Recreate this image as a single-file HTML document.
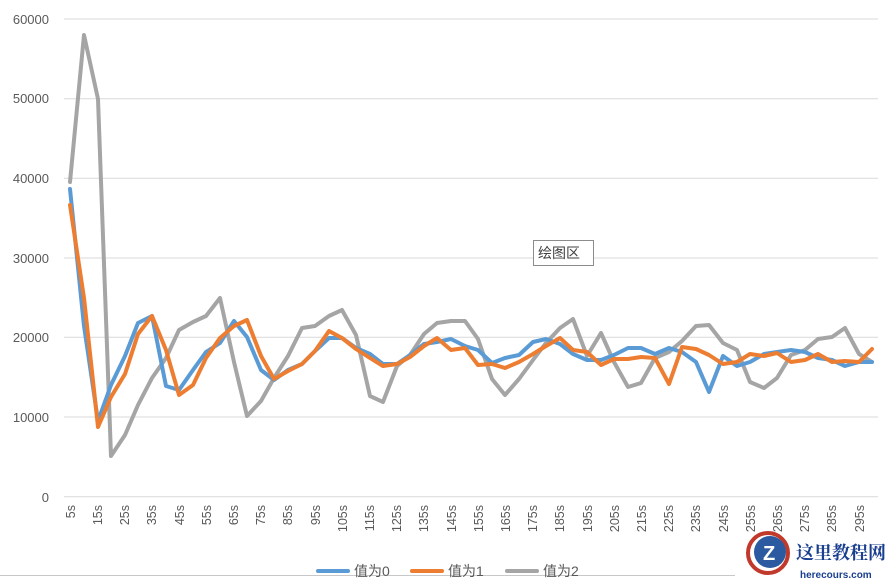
<!DOCTYPE html>
<html><head><meta charset="utf-8"><style>
html,body{margin:0;padding:0;background:#fff;}
svg{display:block;font-family:"Liberation Sans","Noto Sans CJK SC",sans-serif;}
</style></head><body>
<svg width="889" height="583" viewBox="0 0 889 583" xmlns="http://www.w3.org/2000/svg">
<rect width="889" height="583" fill="#fff"/>
<g stroke="#d9d9d9" stroke-width="1">
<line x1="64" y1="19" x2="878" y2="19"/>
<line x1="64" y1="98.7" x2="878" y2="98.7"/>
<line x1="64" y1="178.3" x2="878" y2="178.3"/>
<line x1="64" y1="258" x2="878" y2="258"/>
<line x1="64" y1="337.3" x2="878" y2="337.3"/>
<line x1="64" y1="417" x2="878" y2="417"/>
<line x1="64" y1="496.7" x2="878" y2="496.7"/>
</g>
<g fill="#595959" font-size="13" text-anchor="end">
<text x="49" y="24">60000</text>
<text x="49" y="103">50000</text>
<text x="49" y="183">40000</text>
<text x="49" y="263">30000</text>
<text x="49" y="342">20000</text>
<text x="49" y="422">10000</text>
<text x="49" y="502">0</text>
</g>
<g fill="#595959" font-size="12.5" text-anchor="end">
<text transform="translate(75,505) rotate(-90)">5s</text>
<text transform="translate(102,505) rotate(-90)">15s</text>
<text transform="translate(129,505) rotate(-90)">25s</text>
<text transform="translate(156,505) rotate(-90)">35s</text>
<text transform="translate(184,505) rotate(-90)">45s</text>
<text transform="translate(211,505) rotate(-90)">55s</text>
<text transform="translate(238,505) rotate(-90)">65s</text>
<text transform="translate(265,505) rotate(-90)">75s</text>
<text transform="translate(292,505) rotate(-90)">85s</text>
<text transform="translate(320,505) rotate(-90)">95s</text>
<text transform="translate(347,505) rotate(-90)">105s</text>
<text transform="translate(374,505) rotate(-90)">115s</text>
<text transform="translate(401,505) rotate(-90)">125s</text>
<text transform="translate(428,505) rotate(-90)">135s</text>
<text transform="translate(456,505) rotate(-90)">145s</text>
<text transform="translate(483,505) rotate(-90)">155s</text>
<text transform="translate(510,505) rotate(-90)">165s</text>
<text transform="translate(537,505) rotate(-90)">175s</text>
<text transform="translate(564,505) rotate(-90)">185s</text>
<text transform="translate(592,505) rotate(-90)">195s</text>
<text transform="translate(619,505) rotate(-90)">205s</text>
<text transform="translate(646,505) rotate(-90)">215s</text>
<text transform="translate(673,505) rotate(-90)">225s</text>
<text transform="translate(700,505) rotate(-90)">235s</text>
<text transform="translate(728,505) rotate(-90)">245s</text>
<text transform="translate(755,505) rotate(-90)">255s</text>
<text transform="translate(782,505) rotate(-90)">265s</text>
<text transform="translate(809,505) rotate(-90)">275s</text>
<text transform="translate(836,505) rotate(-90)">285s</text>
<text transform="translate(864,505) rotate(-90)">295s</text>
</g>
<g fill="none" stroke-width="4" stroke-linejoin="round" stroke-linecap="round">
<polyline stroke="#a5a5a5" points="70,182 84,35 98,99 111,456 125,435 138,405 152,378 166,358 179,330 193,322 206,316 220,298 234,362 247,416 261,401 274,378 288,356 302,328 315,326 329,316 342,310 356,335 370,396 383,402 397,366 410,355 424,334 437,323 451,321 465,321 478,339 492,379 505,395 519,379 533,360 546,343 560,328 573,319 587,356 601,333 614,362 628,387 641,383 655,358 669,352 682,341 696,326 709,325 723,343 737,350 750,382 764,388 777,378 791,355 805,350 818,339 832,337 845,328 859,354 872,362"/>
<polyline stroke="#5b9bd5" points="70,189 84,326 98,421 111,385 125,356 138,323 152,316 166,386 179,390 193,370 206,352 220,343 234,321 247,337 261,370 274,380 288,370 302,364 315,351 329,338 342,338 356,348 370,354 383,364 397,364 410,355 424,344 437,342 451,339 465,346 478,350 492,363 505,358 519,355 533,342 546,339 560,344 573,354 587,360 601,360 614,355 628,348 641,348 655,354 669,348 682,352 696,362 709,392 723,356 737,366 750,362 764,354 777,352 791,350 805,352 818,358 832,360 845,366 859,362 872,362"/>
<polyline stroke="#ed7d31" points="70,205 84,298 98,427 111,397 125,374 138,334 152,316 166,350 179,395 193,385 206,358 220,338 234,326 247,320 261,356 274,379 288,371 302,364 315,351 329,331 342,338 356,349 370,358 383,366 397,364 410,357 424,346 437,338 451,350 465,348 478,365 492,364 505,368 519,362 533,354 546,346 560,338 573,350 587,352 601,365 614,359 628,359 641,357 655,358 669,384 682,347 696,349 709,355 723,364 737,362 750,354 764,356 777,353 791,362 805,360 818,354 832,362 845,361 859,362 872,349"/>
</g>
<rect x="533.5" y="240.5" width="60" height="25" fill="#fff" stroke="#8c8c8c"/>
<text x="538" y="258" font-size="14" fill="#404040">绘图区</text>
<line x1="0" y1="575.5" x2="735" y2="575.5" stroke="#c8c8c8"/>
<g font-size="14" fill="#595959">
<line x1="318" y1="571" x2="348" y2="571" stroke="#5b9bd5" stroke-width="4" stroke-linecap="round"/>
<text x="354" y="576">值为0</text>
<line x1="412" y1="571" x2="442" y2="571" stroke="#ed7d31" stroke-width="4" stroke-linecap="round"/>
<text x="448" y="576">值为1</text>
<line x1="507" y1="571" x2="537" y2="571" stroke="#a5a5a5" stroke-width="4" stroke-linecap="round"/>
<text x="543" y="576">值为2</text>
</g>
<circle cx="768" cy="553" r="20" fill="#fff" stroke="#c0392b" stroke-width="4"/>
<circle cx="770" cy="552" r="16" fill="#2c5aa0"/>
<text x="763" y="560" font-size="20" font-weight="bold" fill="#fff">Z</text>
<text x="796" y="559" font-size="18" font-weight="bold" fill="#1a3f8f" font-family="Noto Serif CJK SC, serif">这里教程网</text>
<text x="800" y="578" font-size="10" font-weight="bold" fill="#1a3f8f">herecours.com</text>
</svg>
</body></html>
